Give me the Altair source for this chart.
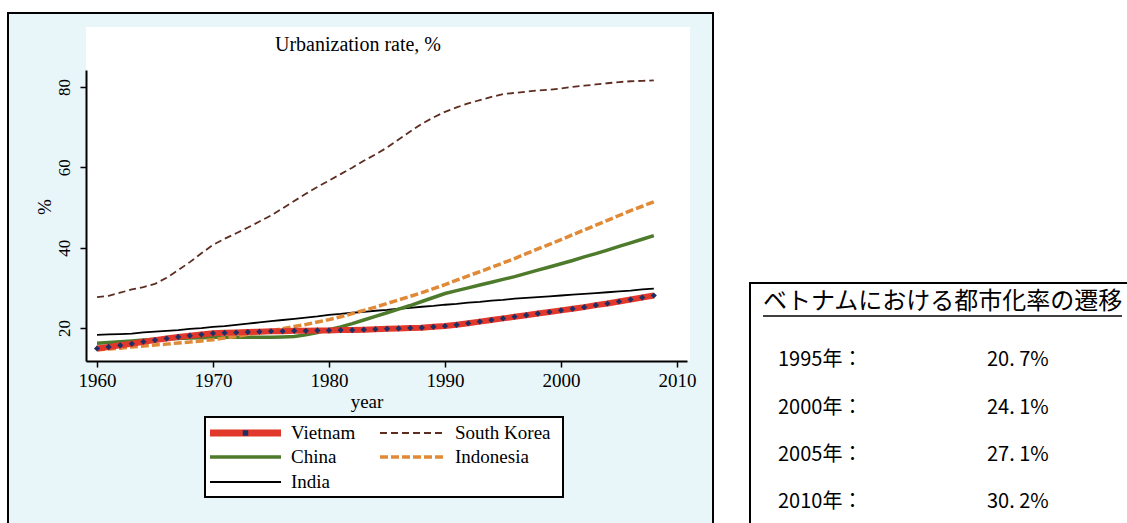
import altair as alt
import pandas as pd

# ---------------- data ----------------
years = list(range(1960, 2009))

vietnam = [14.9, 15.3, 15.7, 16.1, 16.6, 17.0, 17.4, 17.8, 18.1, 18.4,
           18.7, 18.8, 18.9, 19.0, 19.1, 19.2, 19.2, 19.3, 19.3, 19.4,
           19.4, 19.5, 19.5, 19.6, 19.7, 19.8, 19.9, 20.0, 20.1, 20.3,
           20.5, 20.8, 21.2, 21.6, 22.0, 22.4, 22.8, 23.2, 23.6, 24.0,
           24.4, 24.8, 25.2, 25.7, 26.1, 26.6, 27.1, 27.6, 28.1]

south_korea = [27.7, 28.0, 28.8, 29.6, 30.2, 31.0, 32.5, 34.4, 36.4, 38.6,
               40.7, 42.2, 43.6, 45.0, 46.5, 48.0, 49.8, 51.6, 53.4, 55.1,
               56.7, 58.3, 59.9, 61.6, 63.2, 64.9, 66.9, 68.9, 70.8, 72.4,
               73.8, 74.9, 75.9, 76.7, 77.5, 78.2, 78.5, 78.8, 79.1, 79.3,
               79.6, 80.0, 80.3, 80.6, 80.9, 81.2, 81.4, 81.5, 81.6]

china = [16.2, 16.4, 16.6, 16.8, 17.0, 17.2, 17.3, 17.4, 17.5, 17.6,
         17.7, 17.7, 17.7, 17.7, 17.7, 17.7, 17.8, 17.9, 18.3, 18.9,
         19.6, 20.3, 21.1, 22.0, 22.9, 23.8, 24.7, 25.6, 26.6, 27.6,
         28.6, 29.3, 30.0, 30.7, 31.4, 32.1, 32.8, 33.6, 34.4, 35.2,
         36.0, 36.8, 37.7, 38.5, 39.4, 40.3, 41.2, 42.1, 43.0]

indonesia = [14.6, 14.8, 15.0, 15.3, 15.5, 15.8, 16.0, 16.3, 16.5, 16.8,
             17.1, 17.5, 17.9, 18.4, 18.8, 19.3, 19.8, 20.4, 20.9, 21.5,
             22.1, 22.8, 23.6, 24.4, 25.2, 26.1, 27.0, 27.9, 28.8, 29.8,
             30.8, 31.9, 33.0, 34.0, 35.1, 36.2, 37.3, 38.5, 39.7, 40.8,
             42.0, 43.2, 44.4, 45.6, 46.8, 48.0, 49.2, 50.3, 51.4]

india = [18.3, 18.4, 18.5, 18.6, 18.9, 19.1, 19.3, 19.5, 19.8, 20.0,
         20.3, 20.5, 20.8, 21.1, 21.4, 21.7, 22.0, 22.3, 22.6, 22.9,
         23.3, 23.5, 23.8, 24.0, 24.3, 24.5, 24.8, 25.0, 25.3, 25.5,
         25.8, 26.0, 26.3, 26.5, 26.8, 27.0, 27.3, 27.5, 27.7, 27.9,
         28.1, 28.3, 28.5, 28.7, 28.9, 29.1, 29.3, 29.6, 29.8]

countries = ["Vietnam", "South Korea", "China", "Indonesia", "India"]
x_ticks = [1960, 1970, 1980, 1990, 2000, 2010]
y_ticks = [20, 40, 60, 80]

chart_title = "Urbanization rate, %"
x_title = "year"
y_title = "%"

table_title = "ベトナムにおける都市化率の遷移"
table_years = ["1995年：", "2000年：", "2005年：", "2010年："]
table_values = ["20. 7%", "24. 1%", "27. 1%", "30. 2%"]

# ---------------- build ----------------
series = [vietnam, south_korea, china, indonesia, india]
df = pd.DataFrame({
    "year": years * len(countries),
    "value": sum(series, []),
    "country": sum([[c] * len(years) for c in countries], []),
})

SERIF = "Liberation Serif"
JP = "Noto Sans CJK JP"
RED = "#e2372b"
NAVY = "#1e2f66"
GREEN = "#4d7a2b"
BROWN = "#5e2d22"
ORANGE = "#e08a38"
LIGHTBLUE = "#e8f5f9"

xs = alt.Scale(domain=[1959.05, 2010.86], nice=False, zero=False)
ys = alt.Scale(domain=[11.8, 84.2], nice=False, zero=False)

xaxis = alt.Axis(values=x_ticks, format="d", grid=False, title=None,
                 domainColor="black", domainWidth=2, tickColor="black",
                 tickWidth=1.5, tickSize=6, labelFont=SERIF, labelFontSize=19,
                 labelColor="black", labelPadding=4, labelFlush=False,
                 labelOverlap=False, zindex=1)
yaxis = alt.Axis(values=y_ticks, grid=False, title=None,
                 domainColor="black", domainWidth=2, tickColor="black",
                 tickWidth=1.5, tickSize=6, labelFont=SERIF, labelFontSize=17,
                 labelColor="black", labelAngle=270, labelAlign="center",
                 labelBaseline="bottom", labelPadding=7, labelFlush=False,
                 labelOverlap=False, zindex=1)

base = alt.Chart(df).encode(
    x=alt.X("year:Q", scale=xs, axis=xaxis),
    y=alt.Y("value:Q", scale=ys, axis=yaxis),
)

dummy = pd.DataFrame({"d": [0]})


def box(x, x2, y, y2, fill, stroke=None, sw=0):
    kw = dict(fill=fill, strokeWidth=sw)
    if stroke:
        kw["stroke"] = stroke
    return alt.Chart(dummy).mark_rect(**kw).encode(
        x=alt.value(x), x2=alt.value(x2), y=alt.value(y), y2=alt.value(y2))


def rule(x, x2, y, color, width, dash=None):
    kw = dict(color=color, strokeWidth=width)
    if dash:
        kw["strokeDash"] = dash
    return alt.Chart(dummy).mark_rule(**kw).encode(
        x=alt.value(x), x2=alt.value(x2), y=alt.value(y))


def txt(s, x, y, size, font, align="left", angle=0, baseline="middle"):
    return alt.Chart(pd.DataFrame({"t": [s]})).mark_text(
        font=font, fontSize=size, align=align, baseline=baseline,
        angle=angle, color="black").encode(
        x=alt.value(x), y=alt.value(y), text="t:N")


def line(country, **kw):
    return base.transform_filter(alt.datum.country == country).mark_line(**kw)


layers = [
    # outer framed panel and white plot sheet
    box(-78, 627, -57, 470, LIGHTBLUE, "black", 2),
    box(0, 604, -43, 291, "white"),
    # table frame
    box(664, 1060, 213, 470, "white", "black", 2),
    # series
    line("South Korea", color=BROWN, strokeWidth=1.8, strokeDash=[7, 4]),
    line("India", color="black", strokeWidth=1.8),
    line("China", color=GREEN, strokeWidth=3.5),
    line("Indonesia", color=ORANGE, strokeWidth=3.5, strokeDash=[8, 3]),
    line("Vietnam", color=RED, strokeWidth=6),
    base.transform_filter(alt.datum.country == "Vietnam").mark_point(
        shape="diamond", filled=True, color=NAVY, size=38, opacity=1),
    # titles
    txt(chart_title, 272, -25, 20, SERIF, align="center"),
    txt(x_title, 281, 332, 19, SERIF, align="center"),
    txt(y_title, -41, 137, 19, SERIF, align="center", angle=270),
    # legend
    box(119, 477, 347, 427, "white", "black", 2),
    rule(124, 195, 363, RED, 7),
    alt.Chart(dummy).mark_square(color=NAVY, size=30, opacity=1).encode(
        x=alt.value(159.5), y=alt.value(363)),
    rule(124, 195, 387, GREEN, 3.5),
    rule(124, 195, 412, "black", 1.8),
    rule(294, 358, 363, BROWN, 1.8, [7, 4]),
    rule(294, 358, 387, ORANGE, 3.5, [8, 3]),
    txt(countries[0], 205, 363, 19, SERIF),
    txt(countries[2], 205, 387, 19, SERIF),
    txt(countries[4], 205, 412, 19, SERIF),
    txt(countries[1], 369, 363, 19, SERIF),
    txt(countries[3], 369, 387, 19, SERIF),
    # table contents
    txt(table_title, 677, 232, 24, JP),
    rule(677, 1036, 246, "black", 1.5),
]
row_y = [290, 338, 385, 432]
for label, val, yy in zip(table_years, table_values, row_y):
    layers.append(txt(label, 692, yy, 20, JP))
    layers.append(txt(val, 901, yy, 20, JP))

chart = alt.layer(*layers).properties(
    width=601,
    height=291,
    autosize=alt.AutoSizeParams(type="none"),
    padding={"left": 86, "top": 70, "right": 440, "bottom": 162},
    background="white",
).configure_view(stroke=None)

chart.save("out.html", embed_options={"renderer": "svg", "actions": False})
